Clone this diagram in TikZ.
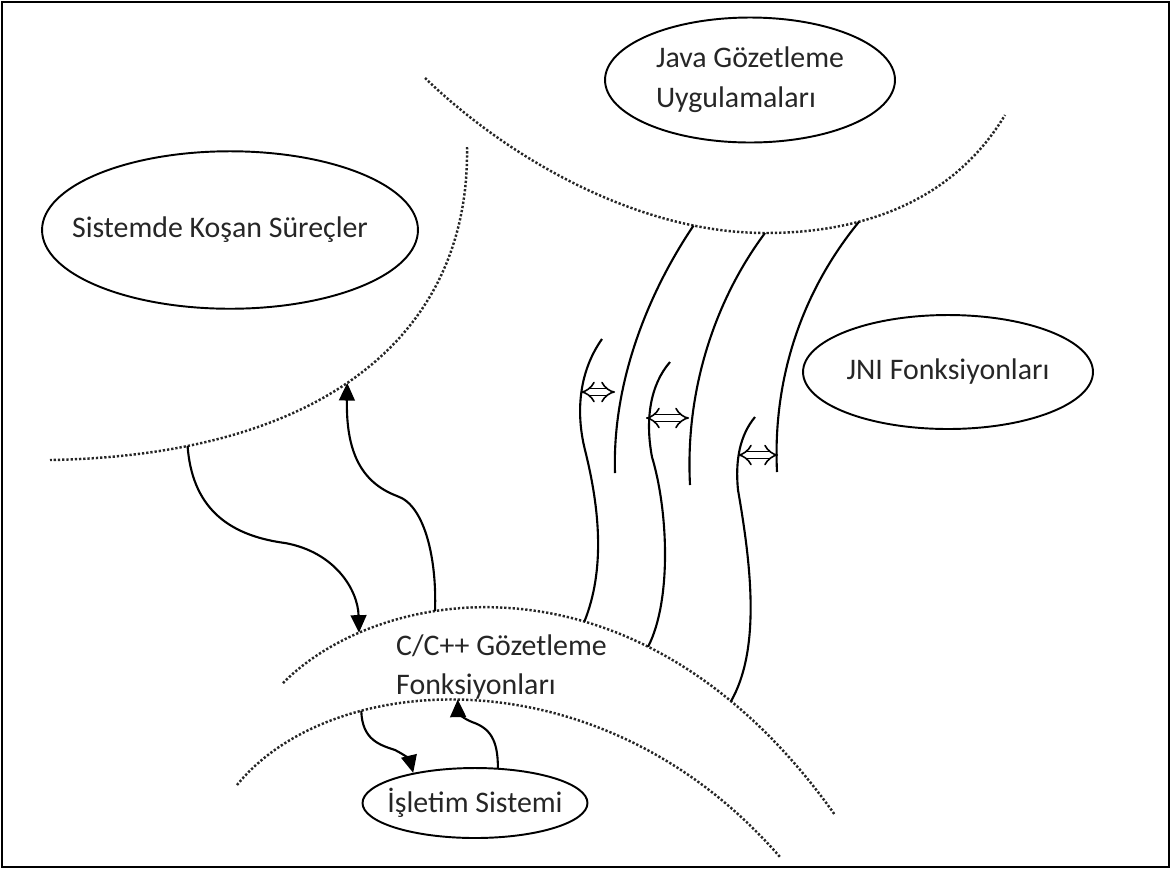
\documentclass[tikz,border=0pt]{standalone}
\usepackage{fontspec}
\setmainfont{Carlito}
\usetikzlibrary{arrows.meta,shapes.geometric}

\tikzset{
  blob/.style={draw, ellipse, line width=1.1pt, inner sep=0pt},
  zone/.style={line width=1.4pt, black!85, dash pattern=on 1.3pt off 1.1pt},
  flow/.style={line width=1.2pt},
  flowto/.style={flow, -{Triangle[length=10pt,width=9pt]}},
  swap/.style={double, double distance=3.2pt, line width=0.9pt, {Implies[length=3pt]}-{Implies[length=3pt]}}
}

\begin{document}
\begin{tikzpicture}[x=0.02cm, y=-0.02cm, font=\fontsize{17}{22.7}\selectfont, text=black!85]
\useasboundingbox (0,0) rectangle (1172,870);
\draw[line width=1.3pt] (2,2) rectangle (1169,867);

\node[blob, minimum width=5.8cm, minimum height=2.5cm,
  label={[align=left, text=black!85]center:Java Gözetleme\\Uygulamaları}] (java) at (750,80) {};
\node[blob, minimum width=7.52cm, minimum height=3.15cm,
  label={[xshift=-0.2cm, text=black!85]center:Sistemde Koşan Süreçler}] (procs) at (230,230) {};
\node[blob, minimum width=5.8cm, minimum height=2.28cm,
  label={[text=black!85]center:JNI Fonksiyonları}] (jni) at (948,372) {};
\node[blob, minimum width=4.5cm, minimum height=1.4cm,
  label={[text=black!85]center:İşletim Sistemi}] (os) at (475,803) {};
\node[align=left, anchor=west] (native) at (390,667) {C/C++ Gözetleme\\Fonksiyonları};

\draw[zone] (425,78) .. controls (510,160) and (640,233) .. (765,233)
  coordinate[pos=0.81] (a1) coordinate (a2)
  .. controls (880,233) and (960,190) .. (1005,115) coordinate[pos=0.3] (a3);
\draw[zone] (467,147) .. controls (470,330) and (330,455) .. (50,460)
  coordinate[pos=0.54] (b1) coordinate[pos=0.82] (b2);
\draw[zone] (283,683) .. controls (380,585) and (640,540) .. (835,815)
  coordinate[pos=0.2] (c1) coordinate[pos=0.35] (c2) coordinate[pos=0.6] (c3)
  coordinate[pos=0.7] (c4) coordinate[pos=0.83] (c5);
\draw[zone] (237,785) .. controls (330,670) and (600,650) .. (780,857)
  coordinate[pos=0.3] (d1) coordinate[pos=0.47] (d2);

\coordinate (l1) at (615,473);
\coordinate (l2) at (690,485);
\coordinate (l3) at (777,472);
\coordinate (m1) at (602,339);
\coordinate (m2) at (670,362);
\coordinate (m3) at (755,417);

\draw[flow] (a1) .. controls (650,290) and (612,380) .. (l1);
\draw[flow] (a2) .. controls (715,300) and (685,390) .. (l2);
\draw[flow] (a3) .. controls (795,300) and (773,390) .. (l3);
\draw[flow] (m1) .. controls (580,370) and (575,410) .. (585,450)
  .. controls (600,510) and (605,570) .. (c3);
\draw[flow] (m2) .. controls (650,385) and (645,420) .. (652,457)
  .. controls (668,510) and (672,600) .. (c4);
\draw[flow] (m3) .. controls (740,435) and (735,460) .. (738,490)
  .. controls (752,570) and (760,650) .. (c5);

\coordinate (s1a) at (581,392);
\coordinate (s1b) at (615,392);
\coordinate (s2a) at (646,418);
\coordinate (s2b) at (689,418);
\coordinate (s3a) at (738,455);
\coordinate (s3b) at (778,455);
\draw[swap] (s1a) -- (s1b);
\draw[swap] (s2a) -- (s2b);
\draw[swap] (s3a) -- (s3b);

\draw[flowto] (b2) .. controls (192,505) and (225,535) .. (285,543)
  .. controls (335,552) and (358,590) .. (c1);
\draw[flowto] (c2) .. controls (437,560) and (425,505) .. (397,496)
  .. controls (360,482) and (346,450) .. (b1);
\draw[flowto] (d1) .. controls (362,740) and (380,745) .. (395,750)
  .. controls (405,755) and (410,760) .. (os.154);
\draw[flowto] (os.57) .. controls (498,740) and (490,728) .. (472,722)
  .. controls (462,718) and (458,712) .. (d2);
\end{tikzpicture}
\end{document}
